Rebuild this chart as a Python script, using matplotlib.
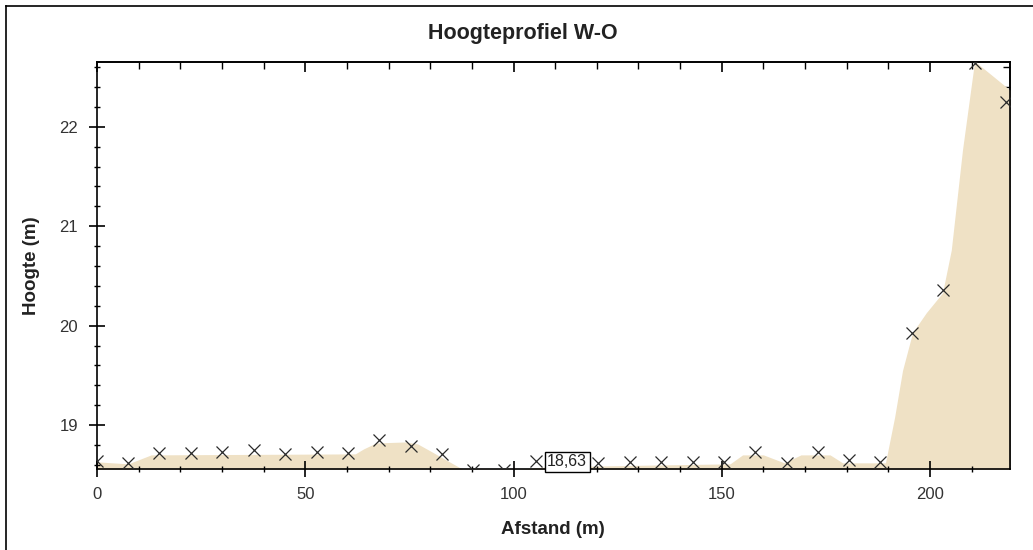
import matplotlib
matplotlib.use("Agg")
import matplotlib.pyplot as plt
from matplotlib.ticker import MultipleLocator
from matplotlib.lines import Line2D

# Sample points (markers)
distance = [0, 7.5, 15.0, 22.6, 30.1, 37.6, 45.2, 52.7, 60.2, 67.7, 75.3, 82.8,
            90.3, 97.8, 105.4, 112.9, 120.4, 127.9, 135.5, 143.0, 150.5, 158.0,
            165.6, 173.1, 180.6, 188.1, 195.7, 203.2, 210.7, 218.2]
height = [18.64, 18.615, 18.715, 18.715, 18.73, 18.75, 18.71, 18.73, 18.72, 18.85,
          18.79, 18.71, 18.55, 18.55, 18.64, 18.63, 18.62, 18.63, 18.63, 18.63,
          18.63, 18.73, 18.62, 18.73, 18.65, 18.63, 19.93, 20.36, 22.64, 22.25]

# Terrain profile (filled area)
profile_x = [0, 7.5, 13, 62, 64, 67, 74, 77, 80, 88, 100, 108, 137, 152, 155, 160, 165, 169,
             176, 179, 189.3, 191.5, 193.4, 195.8, 199.1, 203.0, 205.1, 207.8,
             210.7, 219.2]
profile_h = [18.63, 18.61, 18.70, 18.71, 18.76, 18.82, 18.83, 18.81, 18.74, 18.55, 18.55,
             18.58, 18.60, 18.61, 18.70, 18.70, 18.62, 18.70, 18.70, 18.62, 18.62, 19.08,
             19.55, 19.93, 20.13, 20.33, 20.76, 21.77, 22.66, 22.37]

label_index = 15
label_text = "18,63"

x_ticks = [0, 50, 100, 150, 200]
y_ticks = [19, 20, 21, 22]

plt.rcParams['font.family'] = ['Liberation Sans', 'DejaVu Sans']

W, H = 1033, 550
fig = plt.figure(figsize=(W / 100, H / 100), dpi=100)
fig.patch.set_facecolor('white')

ax = fig.add_axes([97 / W, 1 - 469.3 / H, (1010 - 97) / W, (469.3 - 61.7) / H])
ymin, ymax = 18.555, 22.655
ax.set_xlim(0, 219.2)
ax.set_ylim(ymin, ymax)

ax.fill_between(profile_x, profile_h, ymin, color='#EFE1C5', linewidth=0, zorder=1)
ax.plot(distance, height, linestyle='none', marker='x', markersize=9,
        markeredgewidth=0.9, color='#2a2a2a', zorder=3)

ax.annotate(label_text, (distance[label_index], height[label_index]),
            ha='center', va='center', fontsize=11.5, color='#222222',
            bbox=dict(boxstyle='square,pad=0.15', fc='white', ec='black', lw=1.0),
            zorder=5)

for s in ax.spines.values():
    s.set_linewidth(1.2)
    s.set_color('black')

ax.set_xticks(x_ticks)
ax.set_yticks(y_ticks)
ax.xaxis.set_minor_locator(MultipleLocator(10))
ax.yaxis.set_minor_locator(MultipleLocator(0.2))
ax.tick_params(which='major', direction='inout', length=11, width=1.2,
               labelsize=12, colors='black')
ax.tick_params(which='minor', direction='inout', length=5, width=1.0)
ax.tick_params(axis='x', which='major', pad=7)
ax.tick_params(axis='y', which='major', pad=8)
for lab in ax.get_xticklabels() + ax.get_yticklabels():
    lab.set_color('#333333')

top = ax.secondary_xaxis('top')
top.set_xticks(x_ticks)
top.xaxis.set_minor_locator(MultipleLocator(10))
top.tick_params(which='major', direction='in', length=7, width=1.2, labeltop=False)
top.tick_params(which='minor', direction='in', length=5, width=1.0)
top.spines['top'].set_linewidth(1.2)

right = ax.secondary_yaxis('right')
right.set_yticks(y_ticks)
right.yaxis.set_minor_locator(MultipleLocator(0.2))
right.tick_params(which='major', direction='in', length=7, width=1.2, labelright=False)
right.tick_params(which='minor', direction='in', length=5, width=1.0)
right.spines['right'].set_linewidth(1.2)

fig.text(523 / W, 1 - 33 / H, "Hoogteprofiel W-O", ha='center', va='center',
         fontsize=15.5, fontweight='bold', color='#222222')
fig.text(553 / W, 1 - 530 / H, "Afstand (m)", ha='center', va='center',
         fontsize=13.5, fontweight='bold', color='#222222')
fig.text(31 / W, 1 - 265.5 / H, "Hoogte (m)", ha='center', va='center',
         rotation=90, fontsize=13.5, fontweight='bold', color='#222222')

# outer frame (left and top edges visible)
fig.add_artist(Line2D([6 / W, 6 / W], [0, 1 - 6 / H], transform=fig.transFigure,
                      color='black', lw=1.2))
fig.add_artist(Line2D([6 / W, 1], [1 - 6 / H, 1 - 6 / H], transform=fig.transFigure,
                      color='black', lw=1.2))

fig.savefig('out.png', dpi=100, facecolor='white')
